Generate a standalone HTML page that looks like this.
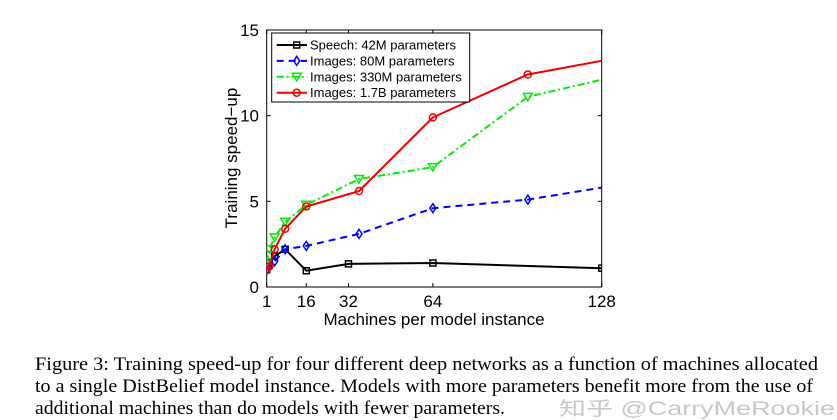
<!DOCTYPE html>
<html><head><meta charset="utf-8"><style>
html,body{margin:0;padding:0;background:#fff;width:837px;height:420px;overflow:hidden}
svg{display:block}
</style></head><body>
<svg id="chart" width="837" height="420" xmlns="http://www.w3.org/2000/svg" font-family="'Liberation Sans', sans-serif">
<defs><clipPath id="plotclip"><rect x="266.7" y="30" width="335" height="257"/></clipPath></defs>
<g id="axes"></g>
<g id="series" clip-path="url(#plotclip)"></g>
<g id="legend"></g>
<text x="434" y="325" font-size="17" text-anchor="middle">Machines per model instance</text>
<text transform="translate(237,158) rotate(-90)" font-size="17" text-anchor="middle">Training speed−up</text>
<g font-family="'Liberation Serif', serif" font-size="19">
<text x="35" y="370" textLength="783" lengthAdjust="spacingAndGlyphs">Figure 3: Training speed-up for four different deep networks as a function of machines allocated</text>
<text x="35" y="392" textLength="778" lengthAdjust="spacingAndGlyphs">to a single DistBelief model instance. Models with more parameters benefit more from the use of</text>
<text x="35" y="414" textLength="470" lengthAdjust="spacingAndGlyphs">additional machines than do models with fewer parameters.</text>
</g>
<text x="559" y="415" font-size="19" fill="#c8c8c8" font-family="'Liberation Sans','Noto Sans CJK SC',sans-serif" textLength="276" lengthAdjust="spacingAndGlyphs">知乎 @CarryMeRookie</text>
</svg>
<script>
const xValues = [1, 2, 4, 8, 16, 36, 64, 100, 128];
const speechX = [1, 2, 4, 8, 16, 32, 64, 128];
const speechY = [1.0, 1.4, 1.8, 2.2, 0.95, 1.35, 1.4, 1.1];
const img80Y = [1.0, 1.2, 1.5, 2.2, 2.4, 3.1, 4.6, 5.1, 5.8];
const img330Y = [1.45, 2.2, 2.9, 3.8, 4.8, 6.3, 7.0, 11.1, 12.1];
const img17Y = [1.0, 1.2, 2.2, 3.4, 4.7, 5.6, 9.9, 12.4, 13.2];
const xTicks = [1, 16, 32, 64, 128];
const yTicks = [0, 5, 10, 15];
const seriesNames = ["Speech: 42M parameters","Images: 80M parameters","Images: 330M parameters","Images: 1.7B parameters"];

const L=266.7,R=601.7,T=30,B=287;
const sx=v=>L+(v-1)/(128-1)*(R-L);
const sy=v=>B-v/15*(B-T);
const NS="http://www.w3.org/2000/svg";
function mk(tag,attrs,parent){const e=document.createElementNS(NS,tag);for(const k in attrs)e.setAttribute(k,attrs[k]);parent.appendChild(e);return e;}
const axes=document.getElementById('axes');
const frame=mk('rect',{x:L,y:T,width:R-L,height:B-T,fill:'none',stroke:'#000','stroke-width':1},axes);


xTicks.forEach(t=>{
  const x=sx(t);
  mk('line',{x1:x,x2:x,y1:B,y2:B-4,stroke:'#000'},axes);
  mk('line',{x1:x,x2:x,y1:T,y2:T+4,stroke:'#000'},axes);
  const tx=mk('text',{x:x,y:307,'font-size':17,'text-anchor':'middle'},axes);
  tx.textContent=t;
  
  
});
yTicks.forEach(t=>{
  const y=sy(t);
  mk('line',{x1:L,x2:L+4,y1:y,y2:y,stroke:'#000'},axes);
  mk('line',{x1:R,x2:R-4,y1:y,y2:y,stroke:'#000'},axes);
  const tx=mk('text',{x:259,y:y+6,'font-size':17,'text-anchor':'end'},axes);
  tx.textContent=t;
  
  
});
function marker(g,type,x,y,c){
  if(type==='sq') mk('rect',{x:x-3,y:y-3,width:6,height:6,fill:'none',stroke:c,'stroke-width':1.5},g);
  else if(type==='dia') mk('path',{d:`M${x},${y-4.5}L${x+3},${y}L${x},${y+4.5}L${x-3},${y}Z`,fill:'none',stroke:c,'stroke-width':1.5},g);
  else if(type==='tri') mk('path',{d:`M${x-4.5},${y-3.5}L${x+4.5},${y-3.5}L${x},${y+4}Z`,fill:'none',stroke:c,'stroke-width':1.5},g);
  else mk('circle',{cx:x,cy:y,r:3.5,fill:'none',stroke:c,'stroke-width':1.5},g);
}
const defs=[
 {xs:speechX,ys:speechY,c:'#000',dash:'',m:'sq',name:'series-speech-42m',allMarkers:true},
 {xs:xValues,ys:img80Y,c:'#0000ff',dash:'7,5',m:'dia',name:'series-images-80m'},
 {xs:xValues,ys:img330Y,c:'#00ee00',dash:'7,3,2,3',m:'tri',name:'series-images-330m'},
 {xs:xValues,ys:img17Y,c:'#ee0000',dash:'',m:'circ',name:'series-images-1-7b'}
];
const sg=document.getElementById('series');
defs.forEach(d=>{
  const g=mk('g',{},sg);
  
  
  const pts=d.xs.map((x,i)=>sx(x).toFixed(1)+','+sy(d.ys[i]).toFixed(1)).join(' ');
  const pl=mk('polyline',{points:pts,fill:'none',stroke:d.c,'stroke-width':2},g);
  if(d.dash)pl.setAttribute('stroke-dasharray',d.dash);
  d.xs.forEach((x,i)=>{ if(x<128||d.allMarkers) marker(g,d.m,sx(x),sy(d.ys[i]),d.c); });
});
const lg=document.getElementById('legend');


mk('rect',{x:271.7,y:33,width:198,height:69,fill:'#fff',stroke:'#000','stroke-width':1},lg);
defs.forEach((d,i)=>{
  const y=45+i*15.9;
  const e=mk('g',{},lg);
  
  
  const ln=mk('line',{x1:276.7,x2:307,y1:y,y2:y,stroke:d.c,'stroke-width':2},e);
  if(d.dash)ln.setAttribute('stroke-dasharray',d.dash);
  marker(e,d.m,296.7,y,d.c);
  const t=mk('text',{x:310,y:y+4.5,'font-size':13},e);
  t.textContent=seriesNames[i];
});
</script>
</body></html>
